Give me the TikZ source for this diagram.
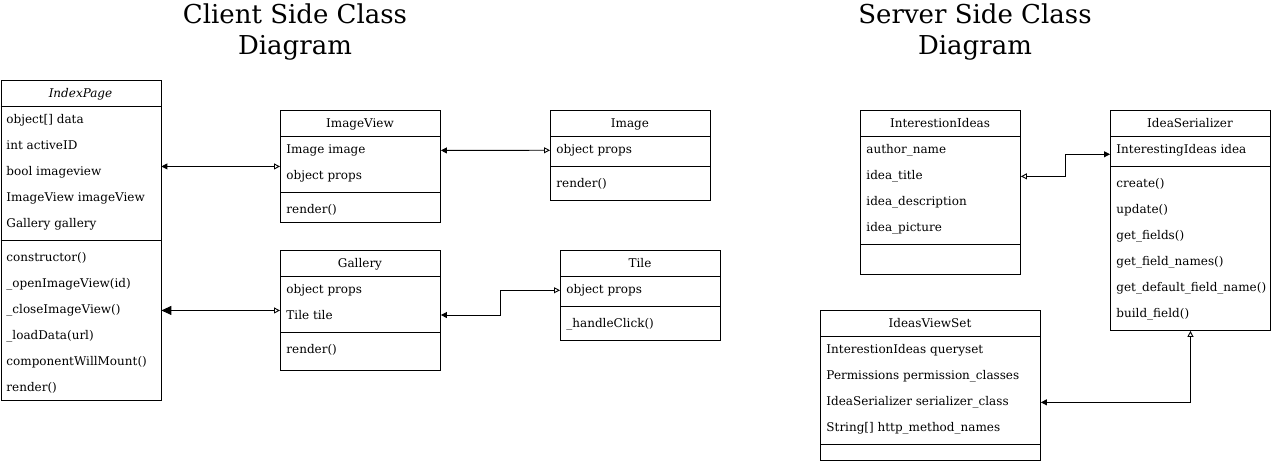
\documentclass[tikz,border=0pt]{standalone}
\usepackage{fontspec}
\setmainfont{DejaVu Serif}
\usetikzlibrary{arrows.meta}
\tikzset{
  fatip/.tip={Triangle[width=6pt,length=6pt]},
  bfatip/.tip={Triangle[width=9pt,length=10pt]},
  oatip/.tip={Triangle[open,width=6pt,length=6pt,fill=white]}
}
\begin{document}
\begin{tikzpicture}[x=1pt,y=-1pt,line width=0.9pt,
  cls/.style={draw, anchor=north west, inner sep=0pt, line width=0.9pt},
  ttl/.style={anchor=base, yshift=-4.5pt, inner sep=0pt, font=\fontsize{12}{14}\selectfont},
  attr/.style={anchor=base west, yshift=-4.5pt, inner sep=0pt, font=\fontsize{12}{14}\selectfont},
  big/.style={align=center, inner sep=0pt, font=\fontsize{26}{31}\selectfont},
  link/.style={draw, line width=0.9pt}]
\useasboundingbox (0,0) rectangle (1271,462);

% titles
\node[big] (t1) at (295,32) {Client Side Class\\Diagram};
\node[big] (t2) at (975,32) {Server Side Class\\Diagram};

% IndexPage
\node[cls, minimum width=160, minimum height=320] (ip) at (0.5,80) {};
\draw (0.5,106) -- (160.5,106) (0.5,240) -- (160.5,240);
\node[ttl] (ip-t) at (80.5,93) {\itshape IndexPage};
\node[attr] (ip-a1) at (6,119) {object[] data};
\node[attr] (ip-a2) at (6,145) {int activeID};
\node[attr] (ip-a3) at (6,171) {bool imageview};
\node[attr] (ip-a4) at (6,197) {ImageView imageView};
\node[attr] (ip-a5) at (6,223) {Gallery gallery};
\node[attr] (ip-m1) at (6,257) {constructor()};
\node[attr] (ip-m2) at (6,283) {\_openImageView(id)};
\node[attr] (ip-m3) at (6,309) {\_closeImageView()};
\node[attr] (ip-m4) at (6,335) {\_loadData(url)};
\node[attr] (ip-m5) at (6,361) {componentWillMount()};
\node[attr] (ip-m6) at (6,387) {render()};

% ImageView
\node[cls, minimum width=160, minimum height=112] (iv) at (280,110) {};
\draw (280,136) -- (440,136) (280,192) -- (440,192);
\node[ttl] (iv-t) at (360,123) {ImageView};
\node[attr] (iv-a1) at (286,149) {Image image};
\node[attr] (iv-a2) at (286,175) {object props};
\node[attr] (iv-m1) at (286,209) {render()};

% Gallery
\node[cls, minimum width=160, minimum height=120] (gal) at (280,250) {};
\draw (280,276) -- (440,276) (280,332) -- (440,332);
\node[ttl] (gal-t) at (360,263) {Gallery};
\node[attr] (gal-a1) at (286,289) {object props};
\node[attr] (gal-a2) at (286,315) {Tile tile};
\node[attr] (gal-m1) at (286,349) {render()};

% Image
\node[cls, minimum width=160, minimum height=90] (img) at (550,110) {};
\draw (550,136) -- (710,136) (550,166) -- (710,166);
\node[ttl] (img-t) at (630,123) {Image};
\node[attr] (img-a1) at (556,149) {object props};
\node[attr] (img-m1) at (556,183) {render()};

% Tile
\node[cls, minimum width=160, minimum height=90] (tile) at (560,250) {};
\draw (560,276) -- (720,276) (560,306) -- (720,306);
\node[ttl] (tile-t) at (640,263) {Tile};
\node[attr] (tile-a1) at (566,289) {object props};
\node[attr] (tile-m1) at (566,323) {\_handleClick()};

% InterestionIdeas
\node[cls, minimum width=160, minimum height=164] (ii) at (860,110) {};
\draw (860,136) -- (1020,136) (860,244) -- (1020,244);
\node[ttl] (ii-t) at (940,123) {InterestionIdeas};
\node[attr] (ii-a1) at (866,149) {author\_name};
\node[attr] (ii-a2) at (866,175) {idea\_title};
\node[attr] (ii-a3) at (866,201) {idea\_description};
\node[attr] (ii-a4) at (866,227) {idea\_picture};

% IdeaSerializer
\node[cls, minimum width=160, minimum height=220] (is) at (1110,110) {};
\draw (1110,136) -- (1270,136) (1110,166) -- (1270,166);
\node[ttl] (is-t) at (1190,123) {IdeaSerializer};
\node[attr] (is-a1) at (1116,149) {InterestingIdeas idea};
\node[attr] (is-m1) at (1116,183) {create()};
\node[attr] (is-m2) at (1116,209) {update()};
\node[attr] (is-m3) at (1116,235) {get\_fields()};
\node[attr] (is-m4) at (1116,261) {get\_field\_names()};
\node[attr] (is-m5) at (1116,287) {get\_default\_field\_name()};
\node[attr] (is-m6) at (1116,313) {build\_field()};

% IdeasViewSet
\node[cls, minimum width=220, minimum height=150] (ivs) at (820,310) {};
\draw (820,336) -- (1040,336) (820,444) -- (1040,444);
\node[ttl] (ivs-t) at (930,323) {IdeasViewSet};
\node[attr] (ivs-a1) at (826,349) {InterestionIdeas queryset};
\node[attr] (ivs-a2) at (826,375) {Permissions permission\_classes};
\node[attr] (ivs-a3) at (826,401) {IdeaSerializer serializer\_class};
\node[attr] (ivs-a4) at (826,427) {String[] http\_method\_names};

% connectors
\draw[link, fatip-oatip] (ip.east |- iv.west) -- (iv.west);
\draw[link, bfatip-oatip] (ip.east |- gal.west) -- (gal.west);
\draw[link, fatip-oatip] (iv.east |- iv-a1) -- (img.west |- img-a1);
\draw[link, fatip-oatip] (gal.east |- gal-a2) -- ++(60,0) |- (tile.west |- tile-a1);
\coordinate (is-in) at ([yshift=-4pt]is.west |- is-a1);
\draw[link, oatip-fatip] (ii.east |- ii-a2) -- ++(45,0) |- (is-in);
\draw[link, fatip-oatip] (ivs.east |- ivs-a3) -| (is.south);
\end{tikzpicture}
\end{document}
